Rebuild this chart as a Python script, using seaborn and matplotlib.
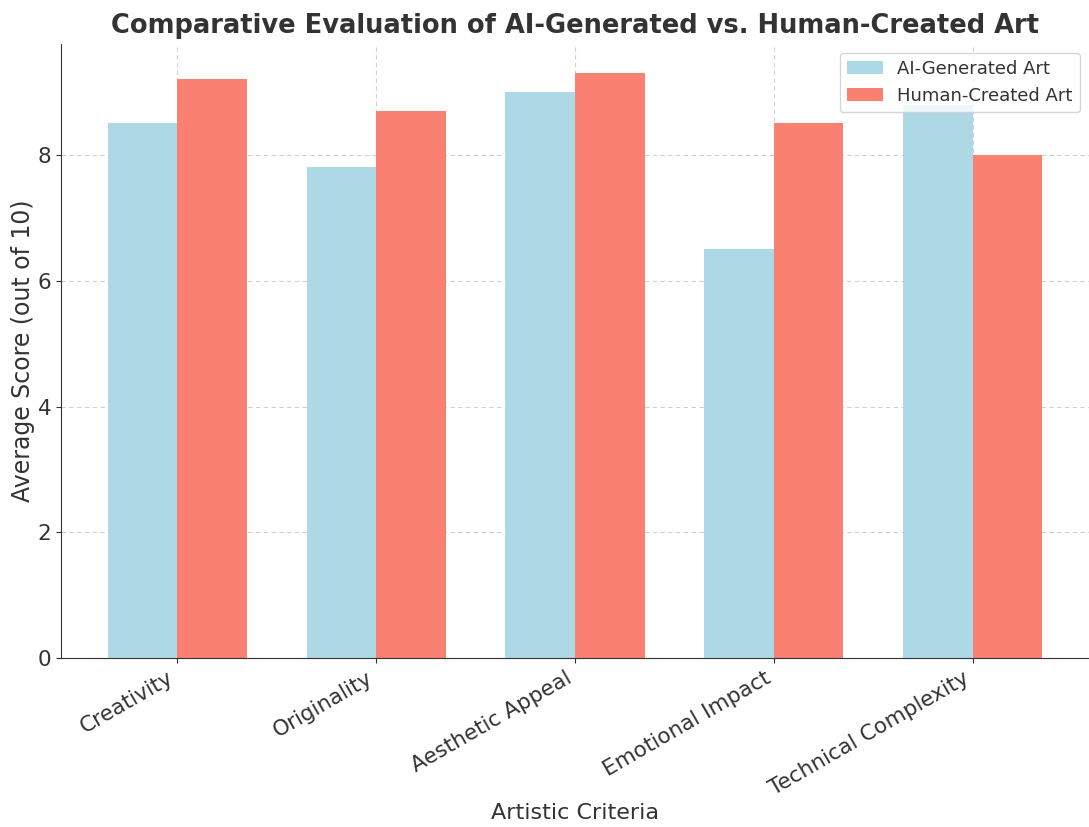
import matplotlib
matplotlib.use("Agg")
import matplotlib.pyplot as plt
import seaborn as sns
import pandas as pd

criteria = ["Creativity", "Originality", "Aesthetic Appeal", "Emotional Impact", "Technical Complexity"]
ai_scores = [8.5, 7.8, 9.0, 6.5, 8.8]
human_scores = [9.2, 8.7, 9.3, 8.5, 8.0]
series_names = ["AI-Generated Art", "Human-Created Art"]
colors = ["lightblue", "salmon"]

df = pd.DataFrame({
    "Criteria": criteria * 2,
    "Score": ai_scores + human_scores,
    "Type": [series_names[0]] * len(criteria) + [series_names[1]] * len(criteria),
})

sns.set_style("ticks")
plt.rcParams["font.family"] = ["DejaVu Sans"]
text_color = "#333333"
plt.rcParams["text.color"] = text_color
plt.rcParams["axes.labelcolor"] = text_color
plt.rcParams["xtick.color"] = text_color
plt.rcParams["ytick.color"] = text_color
plt.rcParams["axes.edgecolor"] = text_color

fig = plt.figure(figsize=(10.89, 8.27), dpi=100)
ax = fig.add_axes([0.056, 0.204, 0.944, 0.743])

sns.barplot(data=df, x="Criteria", y="Score", hue="Type", palette=colors,
            width=0.7, saturation=1, ax=ax, errorbar=None, zorder=2,
            linewidth=0, edgecolor="none")

ax.set_xlim(-0.585, 4.585)
ax.set_ylim(0, 9.765)
ax.grid(True, linestyle=(0, (4, 3)), color="#d0d0d0", linewidth=0.8, zorder=0)
ax.set_axisbelow(True)
sns.despine(ax=ax)

ax.set_title("Comparative Evaluation of AI-Generated vs. Human-Created Art",
             fontsize=18.5, fontweight="bold", color=text_color, pad=8)
ax.set_xlabel("Artistic Criteria", fontsize=16, labelpad=3)
ax.set_ylabel("Average Score (out of 10)", fontsize=17, labelpad=2)
ax.tick_params(axis="both", labelsize=15.5)
plt.setp(ax.get_xticklabels(), rotation=30, ha="right", rotation_mode="default")

leg = ax.legend(loc="upper right", fontsize=13, framealpha=0.8, title=None)

fig.savefig("out.png", dpi=100)
